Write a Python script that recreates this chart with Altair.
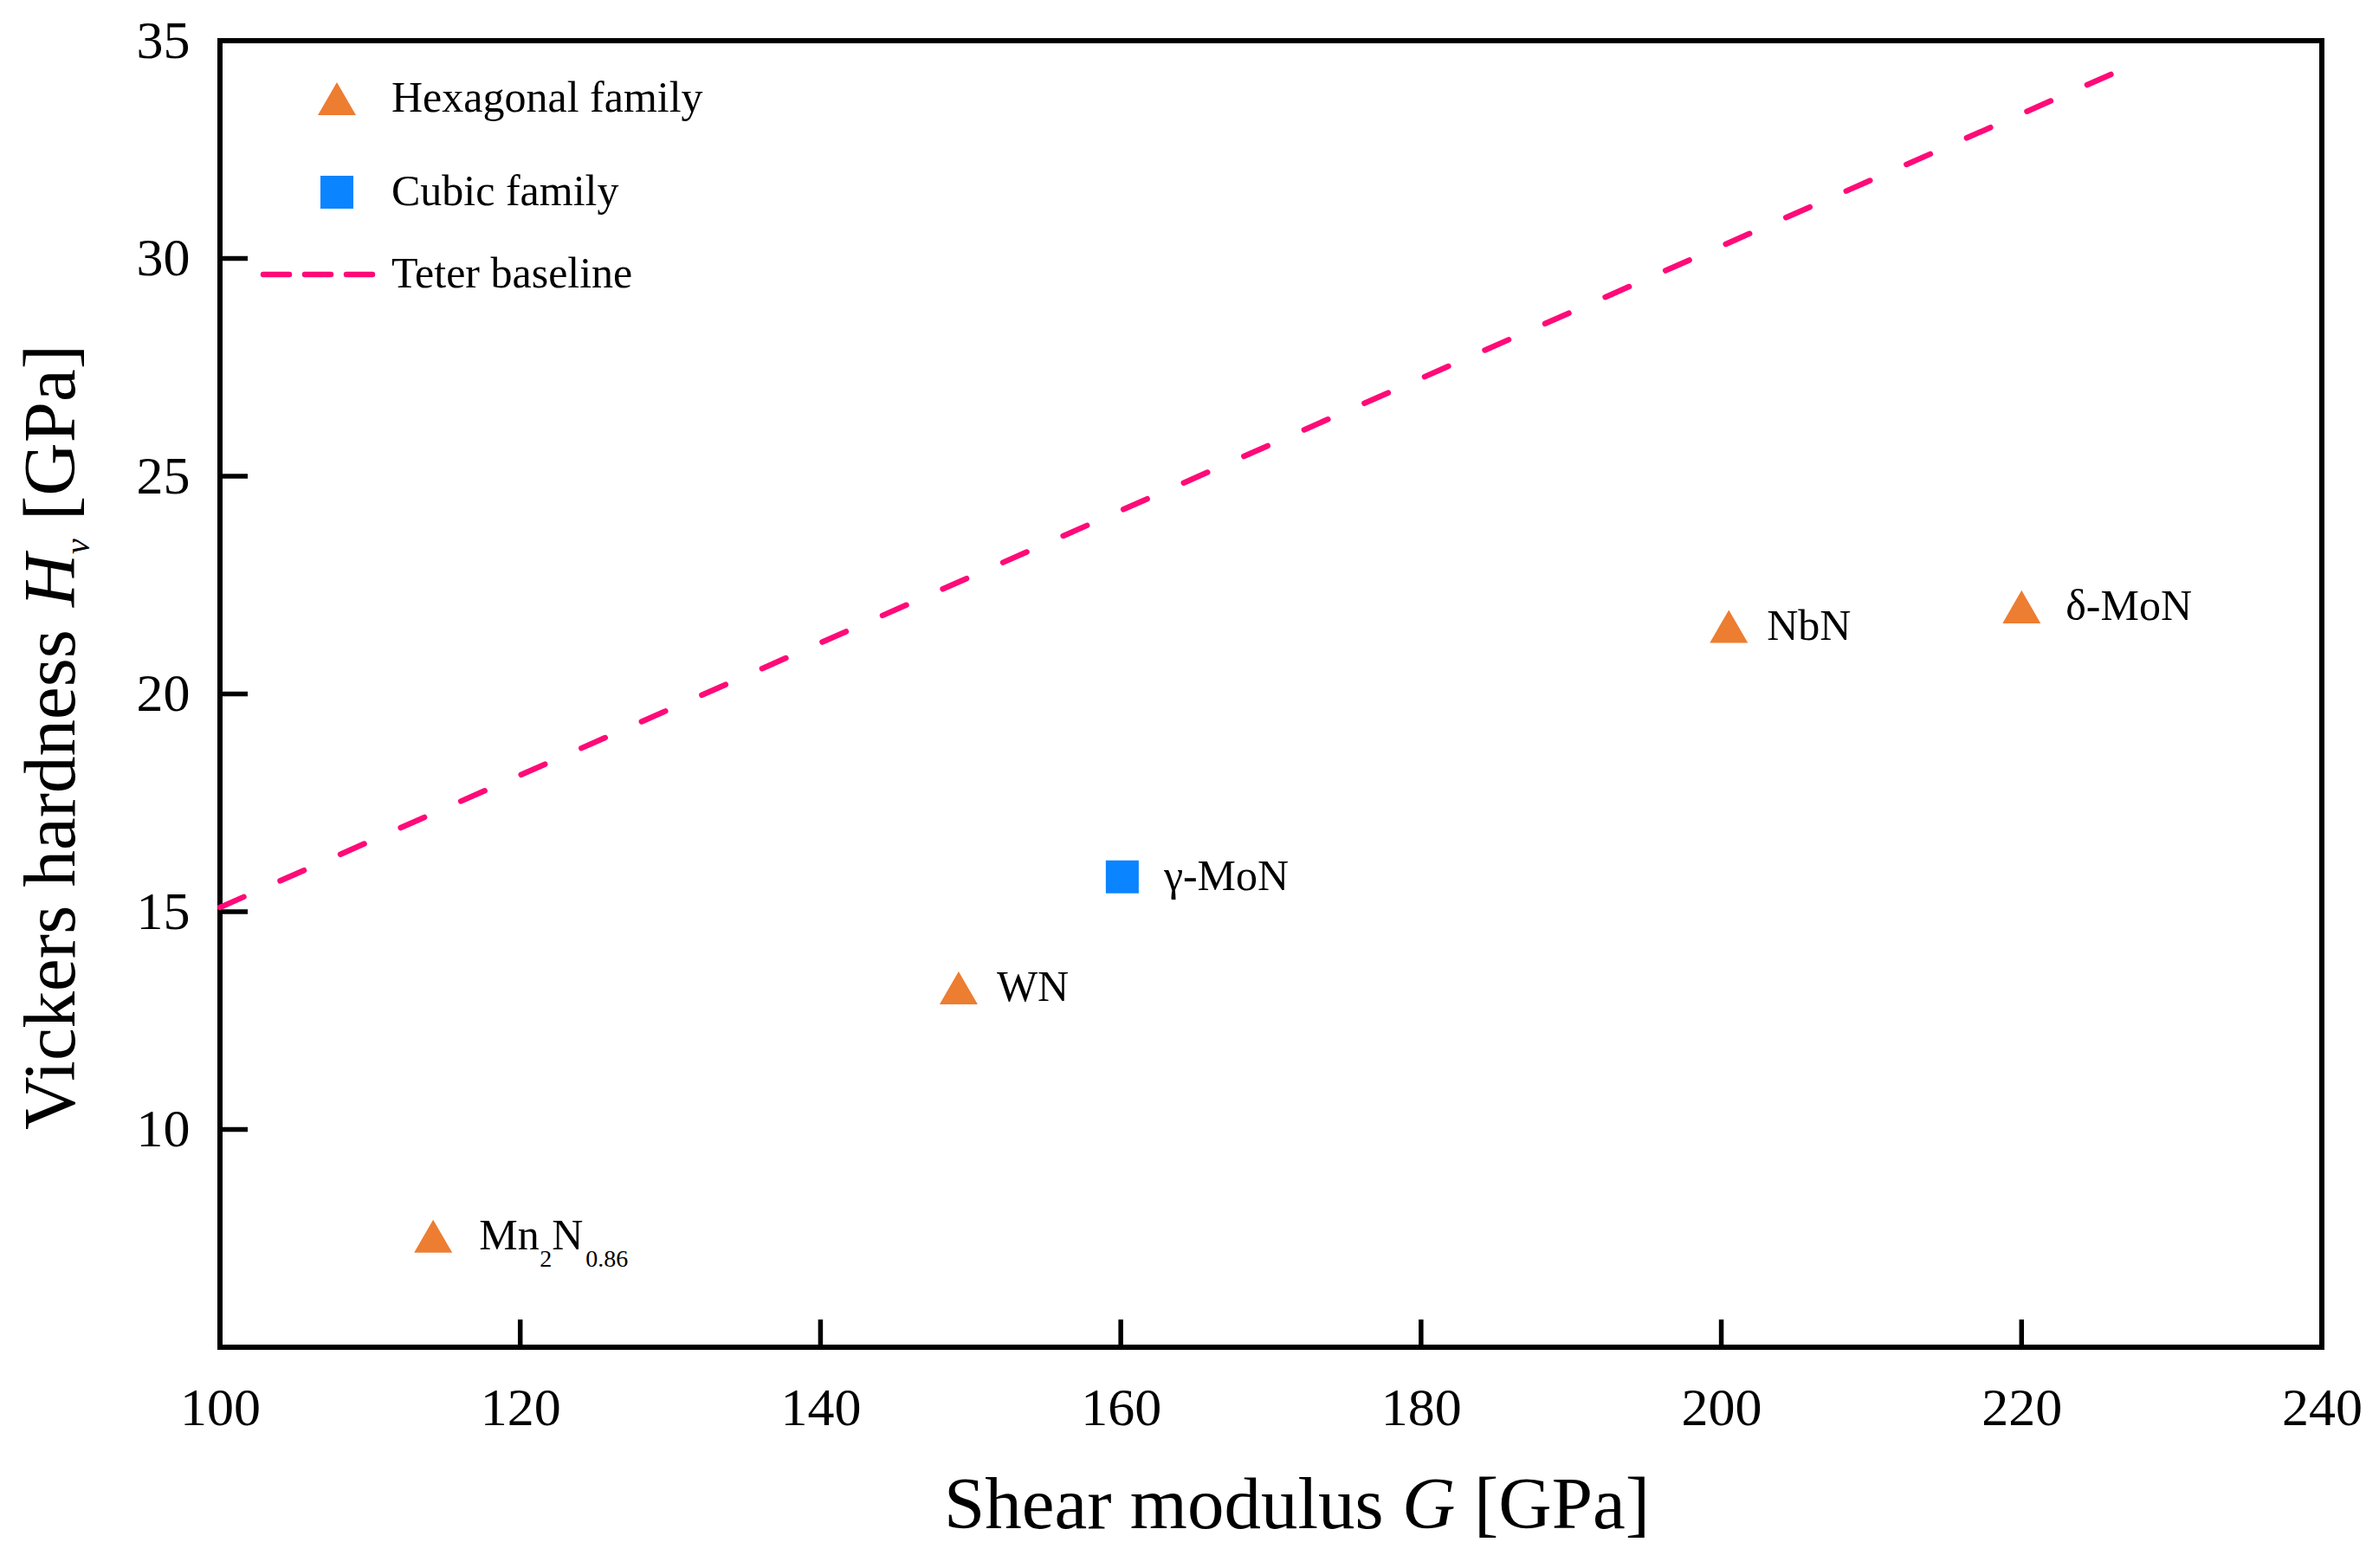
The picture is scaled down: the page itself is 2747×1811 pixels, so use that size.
import altair as alt
import pandas as pd

FONT = "Liberation Serif"
HEX_COLOR = "#ED7D31"
CUBIC_COLOR = "#0A84FF"
TETER_COLOR = "#FF0A78"

# compounds
COMPOUNDS = ["Mn2N0.86", "WN", "γ-MoN", "NbN", "δ-MoN"]
FAMILIES = ["Hexagonal family", "Hexagonal family", "Cubic family",
            "Hexagonal family", "Hexagonal family"]
SHEAR_G = [114.2, 149.2, 160.1, 200.5, 220.0]
HARDNESS_HV = [7.55, 13.25, 15.8, 21.55, 22.0]

# Teter baseline (two end points of the dashed line)
TETER_G = [100.0, 227.1]
TETER_HV = [15.1, 34.4]

X_TICKS = [100, 120, 140, 160, 180, 200, 220, 240]
Y_TICKS = [10, 15, 20, 25, 30, 35]
X_INNER_TICKS = X_TICKS[1:-1]
Y_INNER_TICKS = Y_TICKS[:-1]

FAMILY_ORDER = ["Hexagonal family", "Cubic family"]

W, H = 2427, 1509
TICK_LEN = 32

points = pd.DataFrame({"compound": COMPOUNDS, "family": FAMILIES,
                       "G": SHEAR_G, "Hv": HARDNESS_HV})
teter = pd.DataFrame({"G": TETER_G, "Hv": TETER_HV})
x_ticks_df = pd.DataFrame({"G": X_INNER_TICKS})
y_ticks_df = pd.DataFrame({"Hv": Y_INNER_TICKS})

x_scale = alt.Scale(domain=[100, 240], nice=False, zero=False)
y_scale = alt.Scale(domain=[5, 35], nice=False, zero=False)

axis_common = dict(
    labelFont=FONT, labelFontSize=62, labelColor="black",
    ticks=False, domain=False, grid=False,
    labelFlush=False, labelOverlap=False, title=None,
)
x_enc = alt.X("G:Q", scale=x_scale,
              axis=alt.Axis(values=X_TICKS, labelPadding=40, **axis_common))
y_enc = alt.Y("Hv:Q", scale=y_scale,
              axis=alt.Axis(values=Y_TICKS, labelPadding=35, **axis_common))

text_style = dict(font=FONT, color="black", align="left")

# inward ticks
x_ticks = alt.Chart(x_ticks_df).mark_rule(color="black", strokeWidth=5.5).encode(
    x=x_enc, y=alt.value(H), y2=alt.value(H - TICK_LEN)
)
y_ticks = alt.Chart(y_ticks_df).mark_rule(color="black", strokeWidth=5.5).encode(
    y=y_enc, x=alt.value(0), x2=alt.value(TICK_LEN)
)

teter_line = alt.Chart(teter).mark_line(
    color=TETER_COLOR, strokeWidth=6.5, strokeDash=[30, 46], strokeCap="round"
).encode(x=x_enc, y=y_enc)

pts = alt.Chart(points).mark_point(filled=True, opacity=1, strokeWidth=0).encode(
    x=x_enc,
    y=y_enc,
    shape=alt.Shape("family:N", legend=None,
                    scale=alt.Scale(domain=FAMILY_ORDER, range=["triangle-up", "square"])),
    color=alt.Color("family:N", legend=None,
                    scale=alt.Scale(domain=FAMILY_ORDER, range=[HEX_COLOR, CUBIC_COLOR])),
    size=alt.Size("family:N", legend=None,
                  scale=alt.Scale(domain=FAMILY_ORDER, range=[1936, 1444])),
)

# point labels (offset to the right of each marker)
label_dx = {"WN": 44, "γ-MoN": 48, "NbN": 44, "δ-MoN": 51}
labels = []
for name, dx in label_dx.items():
    labels.append(
        alt.Chart(points).transform_filter(alt.datum.compound == name)
        .mark_text(text=name, fontSize=50, baseline="middle", dx=dx, **text_style)
        .encode(x=x_enc, y=y_enc)
    )

# Mn2N0.86 with subscripts
mn_base = alt.Chart(points).transform_filter(alt.datum.compound == "Mn2N0.86")
for piece, dx, size, dy in [("Mn", 53, 50, 0), ("2", 123, 28, 27),
                            ("N", 137, 50, 0), ("0.86", 176, 28, 27)]:
    labels.append(
        mn_base.mark_text(text=piece, fontSize=size, baseline="middle",
                          dx=dx, dy=dy, **text_style)
        .encode(x=x_enc, y=y_enc)
    )

# in-plot legend
one = alt.Data(values=[{"k": 0}])
legend = [
    alt.Chart(one).mark_point(shape="triangle-up", filled=True, color=HEX_COLOR,
                              opacity=1, size=1936, strokeWidth=0)
    .encode(x=alt.value(135), y=alt.value(67)),
    alt.Chart(one).mark_point(shape="square", filled=True, color=CUBIC_COLOR,
                              opacity=1, size=1444, strokeWidth=0)
    .encode(x=alt.value(135), y=alt.value(175)),
    alt.Chart(one).mark_rule(color=TETER_COLOR, strokeWidth=6.5,
                             strokeDash=[30, 18], strokeCap="round")
    .encode(x=alt.value(50), x2=alt.value(179), y=alt.value(270)),
]
for txt, ypos in [("Hexagonal family", 67), ("Cubic family", 175), ("Teter baseline", 270)]:
    legend.append(
        alt.Chart(one).mark_text(text=txt, fontSize=50, baseline="middle", **text_style)
        .encode(x=alt.value(198), y=alt.value(ypos))
    )

# axis titles (mixed upright / italic)
titles = []
for piece, dx, style in [("Shear modulus", 0, "normal"), ("G", 529, "italic"),
                         ("[GPa]", 612, "normal")]:
    titles.append(
        alt.Chart(one).mark_text(text=piece, fontSize=85, fontStyle=style,
                                 baseline="alphabetic", dx=dx, **text_style)
        .encode(x=alt.value(836), y=alt.value(1718))
    )
for piece, dx, dy, size, style in [("Vickers hardness", 0, 0, 85, "normal"),
                                   ("H", 604, 0, 85, "italic"),
                                   ("v", 665, 17, 40, "italic"),
                                   ("[GPa]", 704, 0, 85, "normal")]:
    titles.append(
        alt.Chart(one).mark_text(text=piece, fontSize=size, fontStyle=style, angle=270,
                                 baseline="alphabetic", dx=dx, dy=dy, **text_style)
        .encode(x=alt.value(-168), y=alt.value(1258))
    )

chart = (
    alt.layer(x_ticks, y_ticks, teter_line, pts, *labels, *legend, *titles)
    .properties(
        width=W, height=H,
        autosize=alt.AutoSizeParams(type="none"),
        padding={"left": 246, "top": 39, "right": 58, "bottom": 247},
    )
    .configure(background="white")
    .configure_view(stroke="black", strokeWidth=6)
)

chart.save("out.html", embed_options={"renderer": "svg", "actions": False})
